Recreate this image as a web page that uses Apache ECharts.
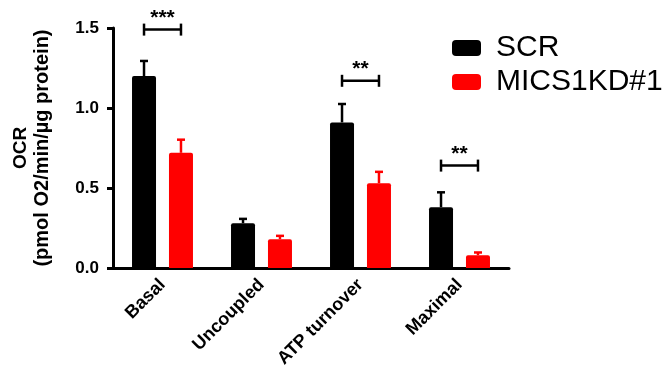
<!DOCTYPE html>
<html>
<head>
<meta charset="utf-8">
<script src="https://cdn.jsdelivr.net/npm/echarts@6/dist/echarts.min.js"></script>
<style>
html,body{margin:0;padding:0;background:#fff;}
#chart{width:671px;height:386px;}
</style>
</head>
<body>
<div id="chart"></div>
<script>
// ---- data ----
const categories = ['Basal', 'Uncoupled', 'ATP turnover', 'Maximal'];
const seriesNames = ['SCR', 'MICS1KD#1'];
const scrValues = [1.20, 0.28, 0.91, 0.38];
const scrErrors = [0.094, 0.027, 0.115, 0.093];
const kdValues = [0.72, 0.18, 0.53, 0.08];
const kdErrors = [0.082, 0.021, 0.071, 0.017];
const sigLabels = ['***', '', '**', '**'];
const sigLevels = [1.49, null, 1.17, 0.64];
const yMin = 0, yMax = 1.5, yInterval = 0.5;
const yTitleTop = 'OCR';
const yTitleUnit = '(pmol O2/min/µg protein)';

const FONT = 'Arial, "Liberation Sans", Helvetica, sans-serif';
const BAR_W = 24;
const BAR_GAP = 0.54;
const OFFSET = (BAR_W + BAR_W * BAR_GAP) / 2;

function errSeries(values, errors, sign, color) {
  return {
    type: 'custom',
    z: 5,
    data: values.map((v, i) => [i, v, errors[i]]),
    encode: { x: 0, y: 1 },
    renderItem: function (params, api) {
      const idx = api.value(0), v = api.value(1), e = api.value(2);
      const b = api.coord([idx, v]);
      const t = api.coord([idx, v + e]);
      const x = b[0] + sign * OFFSET;
      const st = { stroke: color, lineWidth: 2.5 };
      return {
        type: 'group',
        children: [
          { type: 'line', shape: { x1: x, y1: b[1], x2: x, y2: t[1] }, style: st },
          { type: 'line', shape: { x1: x - 4, y1: t[1], x2: x + 4, y2: t[1] }, style: st }
        ]
      };
    }
  };
}

const sigData = [];
sigLevels.forEach((lv, i) => { if (lv !== null) sigData.push([i, lv, i]); });

const option = {
  animation: false,
  backgroundColor: '#fff',
  grid: { left: 113, right: 162, top: 28, bottom: 118 },
  legend: {
    data: seriesNames,
    orient: 'vertical',
    left: 447,
    top: 28,
    itemWidth: 29,
    itemHeight: 16,
    itemGap: 4,
    icon: 'roundRect',
    textStyle: { fontSize: 30, fontFamily: FONT, color: '#000', padding: [0, 0, 0, 10] }
  },
  xAxis: {
    type: 'category',
    data: categories,
    axisLine: { lineStyle: { color: '#000', width: 3 } },
    axisTick: { alignWithLabel: true, length: 5, lineStyle: { color: '#000', width: 2.5 } },
    axisLabel: { rotate: 45, margin: 14, fontSize: 18, fontWeight: 'bold', fontFamily: FONT, color: '#000' }
  },
  yAxis: {
    type: 'value',
    min: yMin, max: yMax, interval: yInterval,
    name: yTitleUnit,
    nameLocation: 'middle',
    nameGap: 61,
    nameTextStyle: { fontFamily: FONT, color: '#000', fontWeight: 'bold', fontSize: 20, lineHeight: 20 },
    axisLine: { show: true, lineStyle: { color: '#000', width: 3 } },
    axisTick: { show: true, length: 6, lineStyle: { color: '#000', width: 3 } },
    splitLine: { show: false },
    axisLabel: { fontSize: 17, fontWeight: 'bold', fontFamily: FONT, color: '#000', margin: 14,
      formatter: v => v.toFixed(1) }
  },
  series: [
    { name: seriesNames[0], type: 'bar', data: scrValues, barWidth: BAR_W, barGap: (BAR_GAP * 100) + '%',
      itemStyle: { color: '#000000', borderRadius: [2, 2, 0, 0] } },
    { name: seriesNames[1], type: 'bar', data: kdValues, barWidth: BAR_W,
      itemStyle: { color: '#ff0000', borderRadius: [2, 2, 0, 0] } },
    errSeries(scrValues, scrErrors, -1, '#000000'),
    errSeries(kdValues, kdErrors, 1, '#ff0000'),
    {
      type: 'custom',
      z: 6,
      data: sigData,
      encode: { x: 0, y: 1 },
      renderItem: function (params, api) {
        const idx = api.value(0), lv = api.value(1);
        const c = api.coord([idx, lv]);
        const x1 = c[0] - OFFSET, x2 = c[0] + OFFSET, y = c[1];
        const st = { stroke: '#000', lineWidth: 2.5 };
        return {
          type: 'group',
          children: [
            { type: 'line', shape: { x1: x1, y1: y, x2: x2, y2: y }, style: st },
            { type: 'line', shape: { x1: x1, y1: y - 6, x2: x1, y2: y + 6 }, style: st },
            { type: 'line', shape: { x1: x2, y1: y - 6, x2: x2, y2: y + 6 }, style: st },
            { type: 'text', style: { x: c[0], y: y - 1, text: sigLabels[api.value(2)], fill: '#000',
              font: 'bold 21px ' + FONT, textAlign: 'center', textVerticalAlign: 'bottom' } }
          ]
        };
      }
    }
  ]
};

const chart = echarts.init(document.getElementById('chart'), null, { renderer: 'canvas' });
chart.setOption(option);
const midY = chart.convertToPixel({ yAxisIndex: 0 }, (yMin + yMax) / 2);
chart.setOption({
  graphic: [{
    type: 'text',
    x: 21, y: midY,
    rotation: Math.PI / 2,
    style: { text: yTitleTop, fill: '#000', fontSize: 19, fontWeight: 'bold', fontFamily: 'Arial, sans-serif',
      align: 'center', verticalAlign: 'middle' }
  }]
});
</script>
</body>
</html>
